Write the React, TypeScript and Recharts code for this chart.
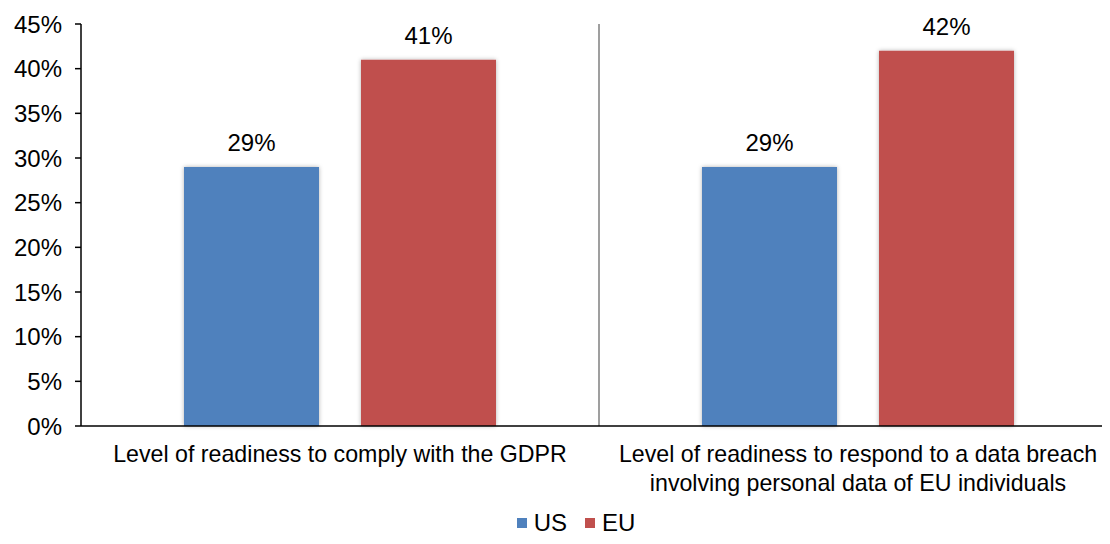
import { BarChart, Bar, XAxis, YAxis, ReferenceLine, LabelList } from "recharts";

const categories = [
  "Level of readiness to comply with the GDPR",
  "Level of readiness to respond to a data breach\ninvolving personal data of EU individuals",
];
const usValues = [29, 29];
const euValues = [41, 42];
const yTicks = [0, 5, 10, 15, 20, 25, 30, 35, 40, 45];

const seriesColors = { US: "#4F81BD", EU: "#C0504D" };
const font = "Arial, 'Liberation Sans', sans-serif";
const fs = 24;

const data = categories.map((name, i) => ({
  name,
  US: usValues[i],
  EU: euValues[i],
  idx: i + 0.5,
}));

function CategoryTick(props: any) {
  const { x, y, payload } = props;
  const lines = String(payload.value).split("\n");
  return (
    <text x={x} y={y} textAnchor="middle" fill="#000" fontSize={23.2} fontFamily={font}>
      {lines.map((l, i) => (
        <tspan key={i} x={x} dy={i === 0 ? 28 : 29}>
          {l}
        </tspan>
      ))}
    </text>
  );
}

function LegendBox() {
  return (
    <div
      style={{
        display: "flex",
        justifyContent: "center",
        alignItems: "center",
        gap: 18,
        paddingLeft: 34,
        fontFamily: font,
        fontSize: fs,
        color: "#000",
        lineHeight: "26px",
      }}
    >
      {(["US", "EU"] as const).map((k) => (
        <div key={k} style={{ display: "flex", alignItems: "center", gap: 7 }}>
          <div style={{ width: 10, height: 10, background: seriesColors[k] }} />
          <span>{k}</span>
        </div>
      ))}
    </div>
  );
}

export default function App() {
  return (
    <div style={{ width: 1094, height: 528, overflow: "hidden", background: "#fff" }}>
      <BarChart
        width={1109}
        height={500}
        data={data}
        margin={{ top: 16, right: 0, bottom: 0, left: 8 }}
        barCategoryGap={103}
        barGap={42}
      >
        <defs>
          <filter id="barShadow" x="-10%" y="-10%" width="120%" height="120%">
            <feDropShadow dx="0" dy="0" stdDeviation="2" floodColor="#000" floodOpacity="0.3" />
          </filter>
        </defs>
        <XAxis
          xAxisId="num"
          type="number"
          dataKey="idx"
          domain={[0, 2]}
          ticks={[0, 1, 2]}
          height={0}
          axisLine={false}
          tickLine={{ stroke: "#000", strokeWidth: 1.5 }}
          tickSize={6}
          tickFormatter={() => ""}
        />
        <XAxis
          dataKey="name"
          height={82}
          interval={0}
          axisLine={{ stroke: "#000", strokeWidth: 1.5 }}
          tickLine={false}
          tick={<CategoryTick />}
        />
        <YAxis
          domain={[0, 45]}
          ticks={yTicks}
          width={65}
          axisLine={{ stroke: "#000", strokeWidth: 1.5 }}
          tickLine={{ stroke: "#000", strokeWidth: 1.5 }}
          tickSize={6}
          tickMargin={13}
          tickFormatter={(v) => `${v}%`}
          tick={{ fill: "#000", fontSize: fs, fontFamily: font }}
        />
        <ReferenceLine xAxisId="num" x={1} stroke="#7f7f7f" strokeWidth={1.5} />
        {(["US", "EU"] as const).map((k) => (
          <Bar
            key={k}
            dataKey={k}
            fill={seriesColors[k]}
            barSize={135}
            filter="url(#barShadow)"
            isAnimationActive={false}
          >
            <LabelList
              dataKey={k}
              position="top"
              offset={16}
              formatter={(v: any) => `${v}%`}
              style={{ fill: "#000", fontSize: fs, fontFamily: font }}
            />
          </Bar>
        ))}
      </BarChart>
      <div style={{ marginTop: 2, width: 1102 }}>
        <LegendBox />
      </div>
    </div>
  );
}
